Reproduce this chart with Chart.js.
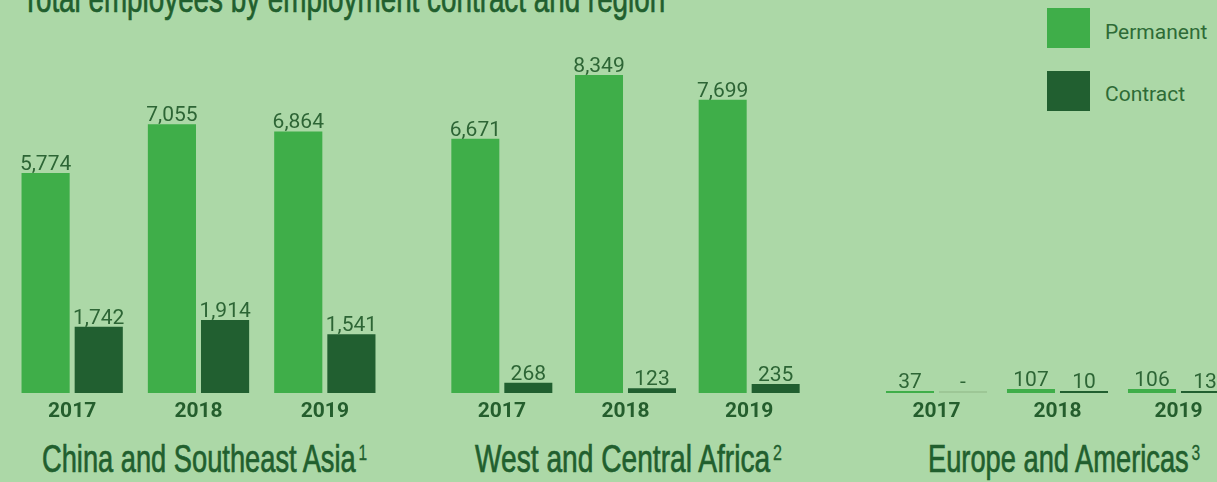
<!DOCTYPE html>
<html>
<head>
<meta charset="utf-8">
<script src="https://cdn.jsdelivr.net/npm/chart.js@4.4.0/dist/chart.umd.min.js"></script>
<style>
  html, body { margin: 0; padding: 0; }
  body { width: 1217px; height: 482px; overflow: hidden; background: #acd8a7; position: relative; }
  canvas { position: absolute; top: 0; }
  .cond { position: absolute; font-family: "Liberation Sans", Arial, sans-serif; font-weight: normal; -webkit-text-stroke: 0.7px #215f2e; font-size: 38.5px; line-height: 38.5px; color: #215f2e; white-space: nowrap; transform-origin: 0 0; }
  .cond sup { font-size: 22px; -webkit-text-stroke: 0.3px #215f2e; position: relative; top: -12px; vertical-align: baseline; margin-left: 4px; }
  .leg-box { position: absolute; left: 1047px; width: 43px; height: 40px; }
  .leg-txt { position: absolute; left: 1105px; font-family: Roboto, sans-serif; font-size: 21px; line-height: 21px; color: #2e6b36; white-space: nowrap; }
</style>
</head>
<body>
<div class="cond" id="title" data-w="643" style="left:22px; top:-19.6px;"></div>
<div class="leg-box" style="top:8px; background:#3fae49;"></div>
<div class="leg-box" style="top:71px; background:#215f30;"></div>
<div class="leg-txt" id="leg0" style="top:22px;"></div>
<div class="leg-txt" id="leg1" style="top:84px;"></div>

<canvas id="c0" width="379" height="430" style="left:9px;"></canvas>
<canvas id="c1" width="371" height="430" style="left:440px;"></canvas>
<canvas id="c2" width="363" height="430" style="left:876px;"></canvas>

<div class="cond" id="r0" data-w="325" style="left:42px; top:440.4px;"></div>
<div class="cond" id="r1" data-w="307" style="left:475px; top:440.4px;"></div>
<div class="cond" id="r2" data-w="272" style="left:928px; top:440.4px;"></div>

<script>
// ---- data ----
const title = 'Total employees by employment contract and region';
const years = ['2017', '2018', '2019'];
const seriesNames = ['Permanent', 'Contract'];
const regions = ['China and Southeast Asia', 'West and Central Africa', 'Europe and Americas'];
const regionNotes = ['1', '2', '3'];
const permanentChina = [5774, 7055, 6864];
const contractChina = [1742, 1914, 1541];
const permanentAfrica = [6671, 8349, 7699];
const contractAfrica = [268, 123, 235];
const permanentEurope = [37, 107, 106];
const contractEurope = [0, 10, 13];
const yMax = 10315;

// ---- text ----
document.getElementById('title').textContent = title;
document.getElementById('leg0').textContent = seriesNames[0];
document.getElementById('leg1').textContent = seriesNames[1];
regions.forEach((r, i) => {
  const el = document.getElementById('r' + i);
  el.textContent = r;
  const s = document.createElement('sup');
  s.textContent = regionNotes[i];
  el.appendChild(s);
});
function fitText() {
  document.querySelectorAll('.cond').forEach(el => {
    el.style.transform = 'none';
    const w = el.offsetWidth;
    el.style.transform = 'scaleX(' + (parseFloat(el.dataset.w) / w) + ')';
  });
}
fitText();
if (document.fonts && document.fonts.ready) document.fonts.ready.then(fitText);

// ---- charts ----
const PERM = '#3fae49', CONT = '#215f30', ZERO = '#9dc796';
const labelPlugin = {
  id: 'valueLabels',
  afterDatasetsDraw(chart) {
    const ctx = chart.ctx;
    ctx.save();
    ctx.font = '21px Roboto';
    ctx.fillStyle = '#2d6535';
    ctx.textAlign = 'center';
    ctx.textBaseline = 'alphabetic';
    chart.data.datasets.forEach((ds, di) => {
      chart.getDatasetMeta(di).data.forEach((el, i) => {
        const v = ds.data[i];
        const txt = v === 0 ? '-' : v.toLocaleString('en-US');
        ctx.fillText(txt, el.x, el.y - 3);
      });
    });
    ctx.restore();
  }
};

function makeChart(id, perm, cont, catPct) {
  return new Chart(document.getElementById(id), {
    type: 'bar',
    data: {
      labels: years,
      datasets: [
        { label: seriesNames[0], data: perm, backgroundColor: PERM },
        { label: seriesNames[1], data: cont, backgroundColor: (c) => (c.raw === 0 ? ZERO : CONT) }
      ]
    },
    options: {
      responsive: false,
      animation: false,
      events: [],
      layout: { padding: 0 },
      datasets: { bar: { categoryPercentage: catPct, barPercentage: 0.906, minBarLength: 2, borderWidth: 0 } },
      plugins: { legend: { display: false }, tooltip: { enabled: false }, title: { display: false } },
      scales: {
        y: { display: false, min: 0, max: yMax },
        x: {
          grid: { display: false },
          border: { display: false },
          ticks: { color: '#245e2d', font: { family: 'Roboto', size: 21, weight: 'bold' }, padding: -2, maxRotation: 0 },
          afterFit(scale) { scale.height = 37; }
        }
      }
    },
    plugins: [labelPlugin]
  });
}

makeChart('c0', permanentChina, contractChina, 106 / 126);
makeChart('c1', permanentAfrica, contractAfrica, 106 / 123.7);
makeChart('c2', permanentEurope, contractEurope, 106 / 121);
</script>
</body>
</html>
